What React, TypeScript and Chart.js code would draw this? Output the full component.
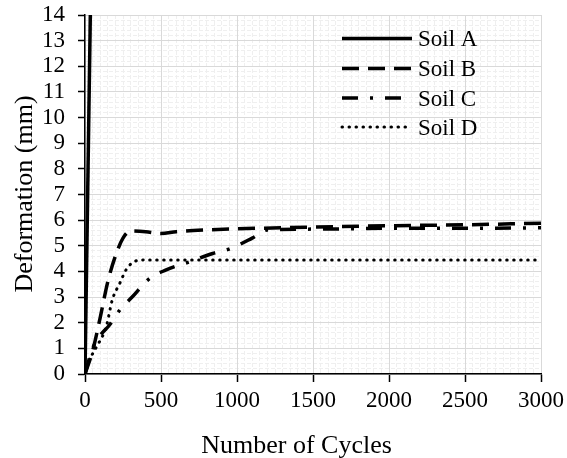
import React, { useEffect, useRef } from "react";
import { Chart, registerables } from "chart.js";

Chart.register(...registerables);

const FONT = "'Liberation Serif', 'Times New Roman', serif";

// ---- data ----
const seriesLabels = ["Soil A", "Soil B", "Soil C", "Soil D"];

const soilACycles = [0, 36];
const soilAValues = [0, 14.4];

const soilBCycles = [0, 50, 100, 150, 200, 250, 300, 400, 500, 600, 800, 1000, 1500, 2000, 2500, 3000];
const soilBValues = [0, 0.9, 2.2, 3.6, 4.6, 5.3, 5.58, 5.55, 5.48, 5.55, 5.62, 5.66, 5.73, 5.78, 5.82, 5.88];

const soilCCycles = [0, 50, 100, 160, 230, 310, 420, 530, 700, 840, 960, 1100, 1200, 1500, 2000, 2500, 3000];
const soilCValues = [0, 1.0, 1.5, 1.9, 2.5, 3.0, 3.7, 4.05, 4.4, 4.7, 4.9, 5.3, 5.62, 5.65, 5.68, 5.68, 5.7];

const soilDCycles = [0, 30, 70, 140, 180, 230, 270, 330, 400, 1000, 2000, 3000];
const soilDValues = [0, 0.55, 1.0, 1.85, 2.9, 3.55, 4.06, 4.4, 4.45, 4.45, 4.45, 4.45];

const xTitle = "Number of Cycles";
const yTitle = "Deformation (mm)";

const xMin = 0;
const xMax = 3000;
const xMajorStep = 500;
const xMinorStep = 50;
const yMin = 0;
const yMax = 14;
const yMajorStep = 1;
const yMinorStep = 0.2;

// ---- styles ----
const lineStyles = [
  { width: 3.5, dash: [] as number[], cap: "butt" as CanvasLineCap },
  { width: 3.5, dash: [17, 9], cap: "butt" as CanvasLineCap },
  { width: 3.5, dash: [16, 12, 3, 12], cap: "butt" as CanvasLineCap },
  { width: 3, dash: [0.5, 6.5], cap: "round" as CanvasLineCap },
];

const toPoints = (xs: number[], ys: number[]) => xs.map((x, i) => ({ x, y: ys[i] }));

const legendPlugin = {
  id: "insideLegend",
  afterDatasetsDraw(chart: any) {
    const ctx: CanvasRenderingContext2D = chart.ctx;
    const rowY = [38.5, 68.5, 98, 127];
    const x0 = 342;
    const x1 = 412;
    const tx = 418;
    ctx.save();
    chart.data.datasets.forEach((ds: any, i: number) => {
      const st = lineStyles[i];
      ctx.beginPath();
      ctx.strokeStyle = "#000";
      ctx.lineWidth = st.width;
      ctx.lineCap = st.cap;
      ctx.setLineDash(st.dash);
      ctx.moveTo(x0, rowY[i]);
      ctx.lineTo(x1, rowY[i]);
      ctx.stroke();
      ctx.setLineDash([]);
      ctx.fillStyle = "#000";
      ctx.font = `23px ${FONT}`;
      ctx.textAlign = "left";
      ctx.textBaseline = "alphabetic";
      ctx.fillText(ds.label, tx, rowY[i] + 7.5);
    });
    ctx.restore();
  },
};

const titlePlugin = {
  id: "axisTitles",
  afterDraw(chart: any) {
    const ctx: CanvasRenderingContext2D = chart.ctx;
    ctx.save();
    ctx.fillStyle = "#000";
    ctx.font = `26px ${FONT}`;
    ctx.textAlign = "center";
    ctx.textBaseline = "alphabetic";
    ctx.fillText(xTitle, 296.5, 453);
    ctx.translate(32, 194);
    ctx.rotate(-Math.PI / 2);
    ctx.fillText(yTitle, 0, 0);
    ctx.restore();
  },
};

export default function App() {
  const ref = useRef<HTMLCanvasElement>(null);

  useEffect(() => {
    const canvas = ref.current;
    if (!canvas) return;
    const data = [
      toPoints(soilACycles, soilAValues),
      toPoints(soilBCycles, soilBValues),
      toPoints(soilCCycles, soilCValues),
      toPoints(soilDCycles, soilDValues),
    ];
    const chart = new Chart(canvas, {
      type: "line",
      data: {
        datasets: data.map((d, i) => ({
          label: seriesLabels[i],
          data: d,
          borderColor: "#000",
          backgroundColor: "#000",
          borderWidth: lineStyles[i].width,
          borderDash: lineStyles[i].dash,
          borderCapStyle: lineStyles[i].cap,
          pointRadius: 0,
          fill: false,
          cubicInterpolationMode: i === 0 ? "default" : "monotone",
        })),
      },
      options: {
        animation: false,
        responsive: false,
        maintainAspectRatio: false,
        layout: { padding: { top: 15, right: 26, bottom: 0, left: 0 } },
        plugins: {
          legend: { display: false },
          tooltip: { enabled: false },
        },
        scales: {
          xMinor: {
            type: "linear",
            position: "bottom",
            min: xMin,
            max: xMax,
            ticks: { display: false, stepSize: xMinorStep },
            grid: { color: "#efefef", lineWidth: 1, drawTicks: false, z: -2 },
            border: { display: false, dash: [4, 2] },
            afterFit: (s: any) => {
              s.height = 0;
              s.paddingLeft = 0;
              s.paddingRight = 0;
            },
          },
          yMinor: {
            type: "linear",
            position: "left",
            min: yMin,
            max: yMax,
            ticks: { display: false, stepSize: yMinorStep },
            grid: { color: "#efefef", lineWidth: 1, drawTicks: false, z: -2 },
            border: { display: false, dash: [4, 2] },
            afterFit: (s: any) => {
              s.width = 0;
              s.paddingTop = 0;
              s.paddingBottom = 0;
            },
          },
          x: {
            type: "linear",
            position: "bottom",
            min: xMin,
            max: xMax,
            ticks: {
              stepSize: xMajorStep,
              autoSkip: false,
              maxRotation: 0,
              color: "#000",
              padding: 5,
              font: { family: FONT, size: 23 },
              callback: (v: any) => String(v),
            },
            grid: { color: "#d9d9d9", lineWidth: 1, tickColor: "#000", tickLength: 8, tickWidth: 1.5, z: -1 },
            border: { color: "#000", width: 1.5 },
            afterFit: (s: any) => {
              s.height = 84;
              s.paddingLeft = 0;
              s.paddingRight = 0;
            },
          },
          y: {
            type: "linear",
            position: "left",
            min: yMin,
            max: yMax,
            ticks: {
              stepSize: yMajorStep,
              autoSkip: false,
              color: "#000",
              padding: 13,
              font: { family: FONT, size: 23 },
              callback: (v: any) => String(v),
            },
            grid: { color: "#d9d9d9", lineWidth: 1, tickColor: "#000", tickLength: 7, tickWidth: 1.5, z: -1 },
            border: { color: "#000", width: 1.5 },
            afterFit: (s: any) => {
              s.width = 85;
              s.paddingTop = 0;
              s.paddingBottom = 0;
            },
          },
        },
      } as any,
      plugins: [legendPlugin, titlePlugin],
    });
    return () => chart.destroy();
  }, []);

  return (
    <div style={{ position: "absolute", left: 0, top: 0, width: 567, height: 458, background: "#fff" }}>
      <canvas ref={ref} width={567} height={458} style={{ display: "block", width: 567, height: 458 }} />
    </div>
  );
}
